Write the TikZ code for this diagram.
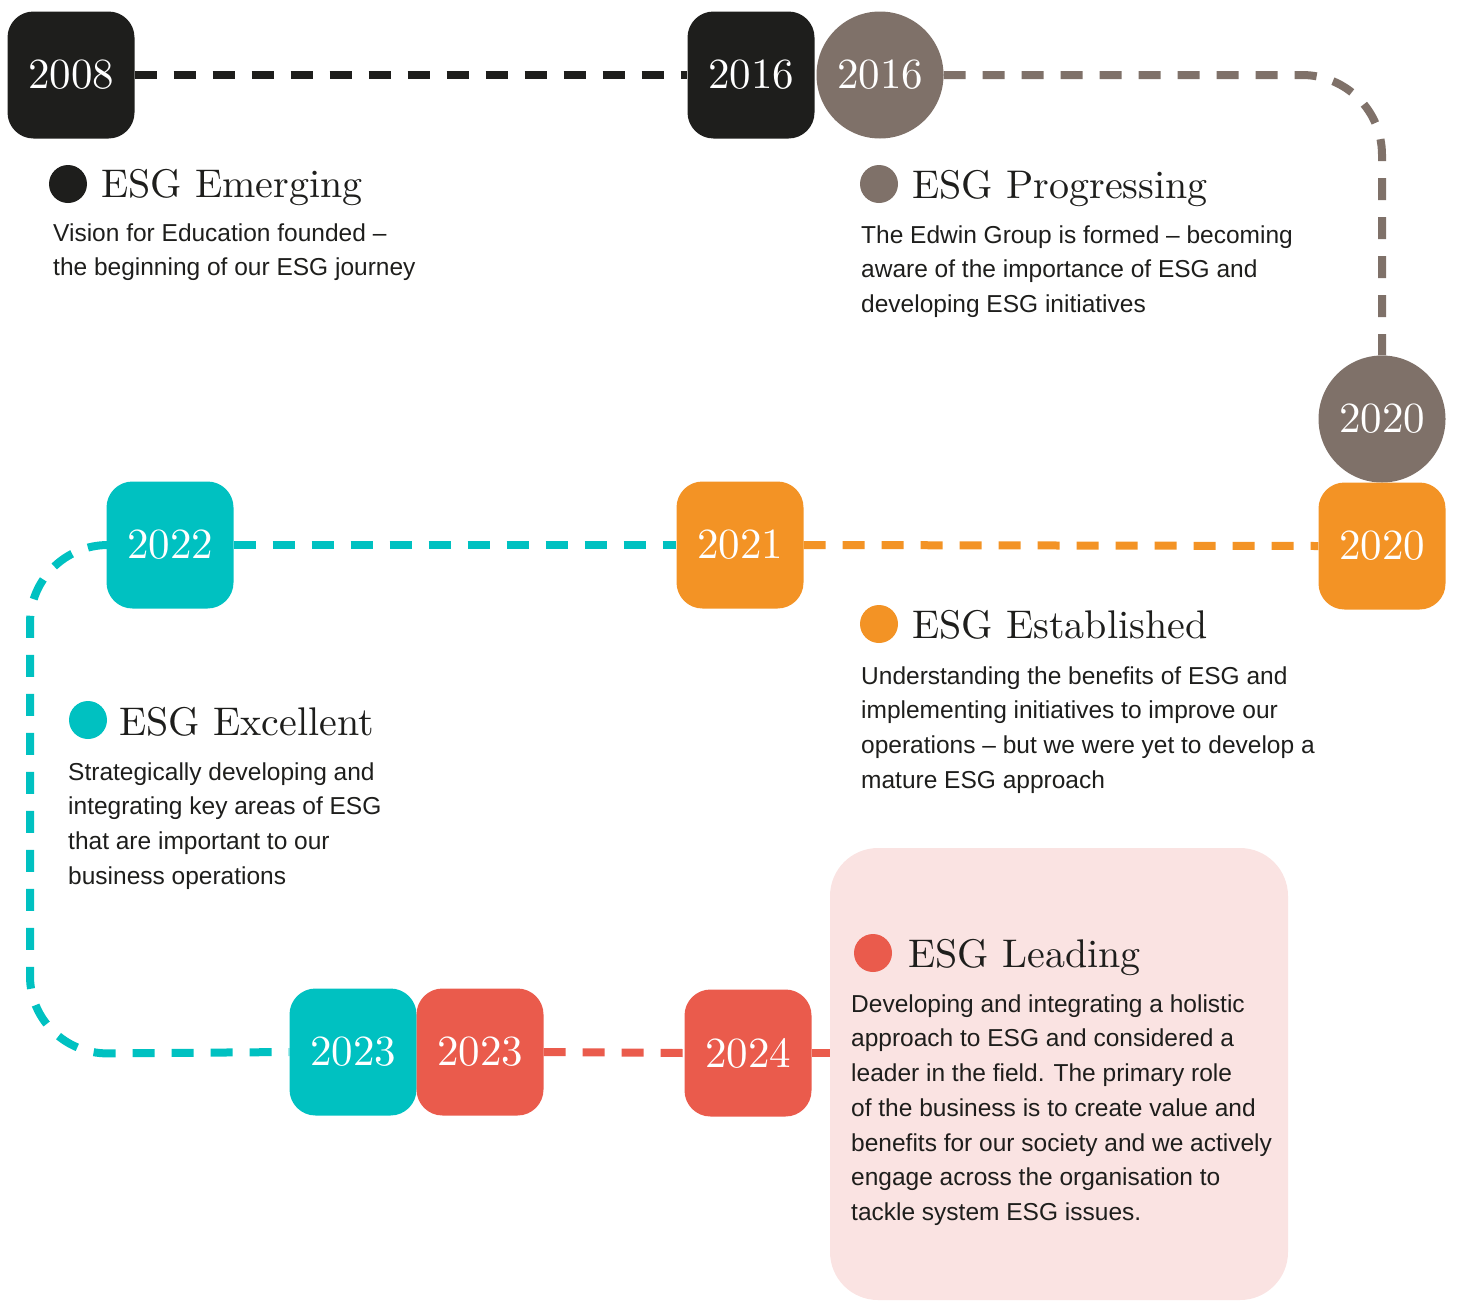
\documentclass[tikz,border=0pt]{standalone}
\usepackage{fontspec}
\newfontfamily\bodyfont{Liberation Sans}
\newfontfamily\headfont{lmroman10-regular}[Extension=.otf]
\definecolor{esgblack}{HTML}{1E1E1C}
\definecolor{esggrey}{HTML}{7F7169}
\definecolor{esgorange}{HTML}{F39325}
\definecolor{esgteal}{HTML}{00C1C1}
\definecolor{esgred}{HTML}{EA5B4C}
\definecolor{esgpink}{HTML}{FAE3E2}
\definecolor{ink}{HTML}{1E1E1C}
\pgfdeclarelayer{bg}
\pgfsetlayers{bg,main}
\begin{document}
\begin{tikzpicture}[x=1pt,y=-1pt,
  yearbox/.style={rectangle, rounded corners=26pt, minimum width=127pt, minimum height=127pt, inner sep=0pt, text=white, font=\headfont\fontsize{43}{43}\selectfont},
  yearcirc/.style={circle, minimum size=127pt, inner sep=0pt, text=white, font=\headfont\fontsize{43}{43}\selectfont},
  dashline/.style={line width=8pt, dash pattern=on 22pt off 17pt},
  dotmark/.style={circle, minimum size=38pt, inner sep=0pt},
  titletext/.style={anchor=base west, inner sep=0pt, text=ink, font=\headfont\fontsize{40}{40}\selectfont},
  bodytext/.style={anchor=north west, inner sep=0pt, align=left, text=ink, font=\bodyfont\fontsize{24.5}{34.7}\selectfont}
]
\useasboundingbox (0,0) rectangle (1458,1301);

% leading panel
\node[fill=esgpink, rounded corners=48pt, minimum width=458pt, minimum height=452pt, inner sep=0pt] (lead) at (1059,1074) {};

% year markers
\node[yearbox, fill=esgblack] (y2008) at (71,75) {2008};
\node[yearbox, fill=esgblack] (b2016) at (751,75) {2016};
\node[yearcirc, fill=esggrey] (g2016) at (880,75) {2016};
\node[yearcirc, fill=esggrey] (g2020) at (1382,419) {2020};
\node[yearbox, fill=esgorange] (o2020) at (1382,546) {2020};
\node[yearbox, fill=esgorange] (o2021) at (740,545) {2021};
\node[yearbox, fill=esgteal] (t2022) at (170,545) {2022};
\node[yearbox, fill=esgteal] (t2023) at (353,1052) {2023};
\node[yearbox, fill=esgred] (r2023) at (480,1052) {2023};
\node[yearbox, fill=esgred] (r2024) at (748,1053) {2024};

\coordinate (tc1) at (30,545);
\coordinate (tc2) at (30,1054);

% connectors
\begin{pgfonlayer}{bg}
\draw[dashline, draw=esgblack] (y2008.east) -- (b2016.west);
\draw[dashline, draw=esggrey, rounded corners=80pt] (g2016.east) -| (g2020.north);
\draw[dashline, draw=esgorange] (o2021.east) -- (o2020.west);
\draw[dashline, draw=esgteal] (t2022.east) -- (o2021.west);
\draw[dashline, draw=esgteal, rounded corners=78pt] (t2022.west) -- (tc1) -- (tc2) -- (t2023.west);
\draw[dashline, draw=esgred] (r2023.east) -- (r2024.west);
\draw[dashline, draw=esgred] (r2024.east) -- (r2024 -| lead.west);
\end{pgfonlayer}

% ESG Emerging
\node[dotmark, fill=esgblack] (d1) at (68,184) {};
\node[titletext] (h1) at (101,197) {ESG Emerging};
\node[bodytext] (p1) at (53,216.7) {\strut Vision for Education founded –\\the beginning of our ESG journey};

% ESG Progressing
\node[dotmark, fill=esggrey] (d2) at (879,184) {};
\node[titletext] (h2) at (912,198) {ESG Progressing};
\node[bodytext] (p2) at (861,218.7) {\strut The Edwin Group is formed – becoming\\aware of the importance of ESG and\\developing ESG initiatives};

% ESG Established
\node[dotmark, fill=esgorange] (d3) at (879,624) {};
\node[titletext] (h3) at (912,638) {ESG Established};
\node[bodytext] (p3) at (861,659.7) {\strut Understanding the benefits of ESG and\\implementing initiatives to improve our\\operations – but we were yet to develop a\\mature ESG approach};

% ESG Excellent
\node[dotmark, fill=esgteal] (d4) at (88,720) {};
\node[titletext] (h4) at (119,735) {ESG Excellent};
\node[bodytext] (p4) at (68,755.7) {\strut Strategically developing and\\integrating key areas of ESG\\that are important to our\\business operations};

% ESG Leading
\node[dotmark, fill=esgred] (d5) at (873,953) {};
\node[titletext] (h5) at (908,967) {ESG Leading};
\node[bodytext] (p5) at (851,987.7) {\strut Developing and integrating a holistic\\approach to ESG and considered a\\leader in the field. The primary role\\of the business is to create value and\\benefits for our society and we actively\\engage across the organisation to\\tackle system ESG issues.};
\end{tikzpicture}
\end{document}
